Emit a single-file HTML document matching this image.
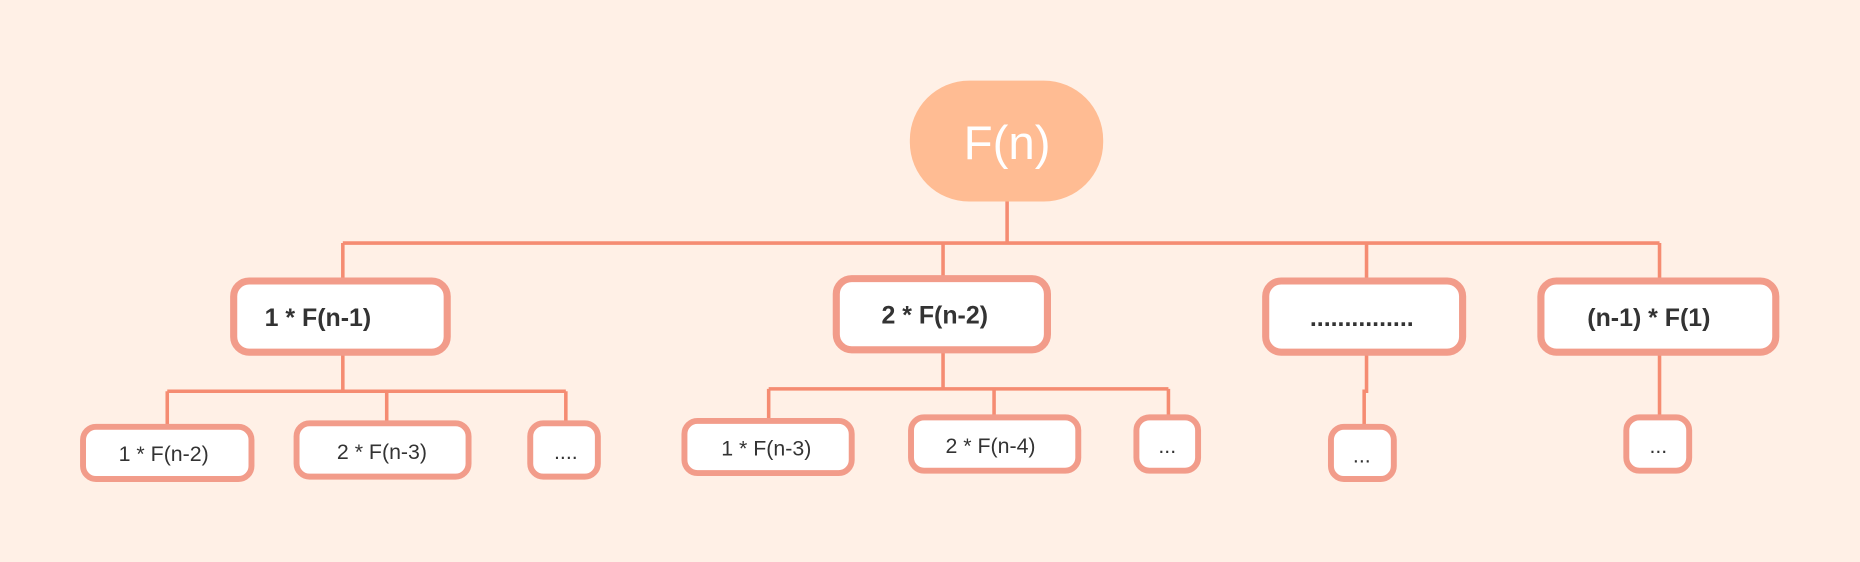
<!DOCTYPE html>
<html><head><meta charset="utf-8"><style>
html,body{margin:0;padding:0;background:#FFF0E6;}
svg{display:block;}
text{font-family:"Liberation Sans",Arial,sans-serif;fill:#333;}
</style></head><body>
<svg width="1860" height="562" viewBox="0 0 1568 474" preserveAspectRatio="none">
<rect x="0" y="0" width="1568" height="474" fill="#FFF0E6"/>
<g stroke="#F58C72" stroke-width="3" fill="none">
<path d="M849 170V205M289 205H1399M289 205V237M795 205V235M1152 205V237M1399 205V237"/>
<path d="M289 297V330M141 330H477M141 330V360M326 330V357M477 330V357"/>
<path d="M795 295V328M648 328H985M648 328V355M838 328V352M985 328V352"/>
<path d="M1152 297V330H1150V360M1399 297V352"/>
</g>
<g>
<rect x="767" y="68" width="163" height="102" rx="50" fill="#FFBC93"/>
<text x="849" y="134" text-anchor="middle" font-size="40" style="fill:#fff">F(n)</text>
</g>
<g stroke="#F29C8A" stroke-width="6" fill="#fff">
<g><rect x="197" y="237" width="180" height="60" rx="13"/><text x="268" y="275" text-anchor="middle" font-size="21" font-weight="bold" stroke="none">1 * F(n-1)</text></g>
<g><rect x="705" y="235" width="178" height="60" rx="13"/><text x="788" y="273" text-anchor="middle" font-size="21" font-weight="bold" stroke="none">2 * F(n-2)</text></g>
<g><rect x="1067" y="237" width="166" height="60" rx="13"/><text x="1148" y="275" text-anchor="middle" font-size="21" font-weight="bold" stroke="none">...............</text></g>
<g><rect x="1299" y="237" width="198" height="60" rx="13"/><text x="1390" y="275" text-anchor="middle" font-size="21" font-weight="bold" stroke="none">(n-1) * F(1)</text></g>
<g stroke-width="5">
<g><rect x="70" y="360" width="142" height="44" rx="11"/><text x="138" y="389" text-anchor="middle" font-size="18" stroke="none">1 * F(n-2)</text></g>
<g><rect x="250" y="357" width="145" height="45" rx="11"/><text x="322" y="387" text-anchor="middle" font-size="18" stroke="none">2 * F(n-3)</text></g>
<g><rect x="447" y="357" width="57" height="45" rx="11"/><text x="477" y="387" text-anchor="middle" font-size="18" stroke="none">....</text></g>
<g><rect x="577" y="355" width="141" height="44" rx="11"/><text x="646" y="384" text-anchor="middle" font-size="18" stroke="none">1 * F(n-3)</text></g>
<g><rect x="768" y="352" width="141" height="45" rx="11"/><text x="835" y="382" text-anchor="middle" font-size="18" stroke="none">2 * F(n-4)</text></g>
<g><rect x="958" y="352" width="52" height="45" rx="11"/><text x="984" y="382" text-anchor="middle" font-size="18" stroke="none">...</text></g>
<g><rect x="1122" y="360" width="53" height="44" rx="11"/><text x="1148" y="390" text-anchor="middle" font-size="18" stroke="none">...</text></g>
<g><rect x="1371" y="352" width="53" height="45" rx="11"/><text x="1398" y="382" text-anchor="middle" font-size="18" stroke="none">...</text></g>
</g>
</g>
</svg>
</body></html>
